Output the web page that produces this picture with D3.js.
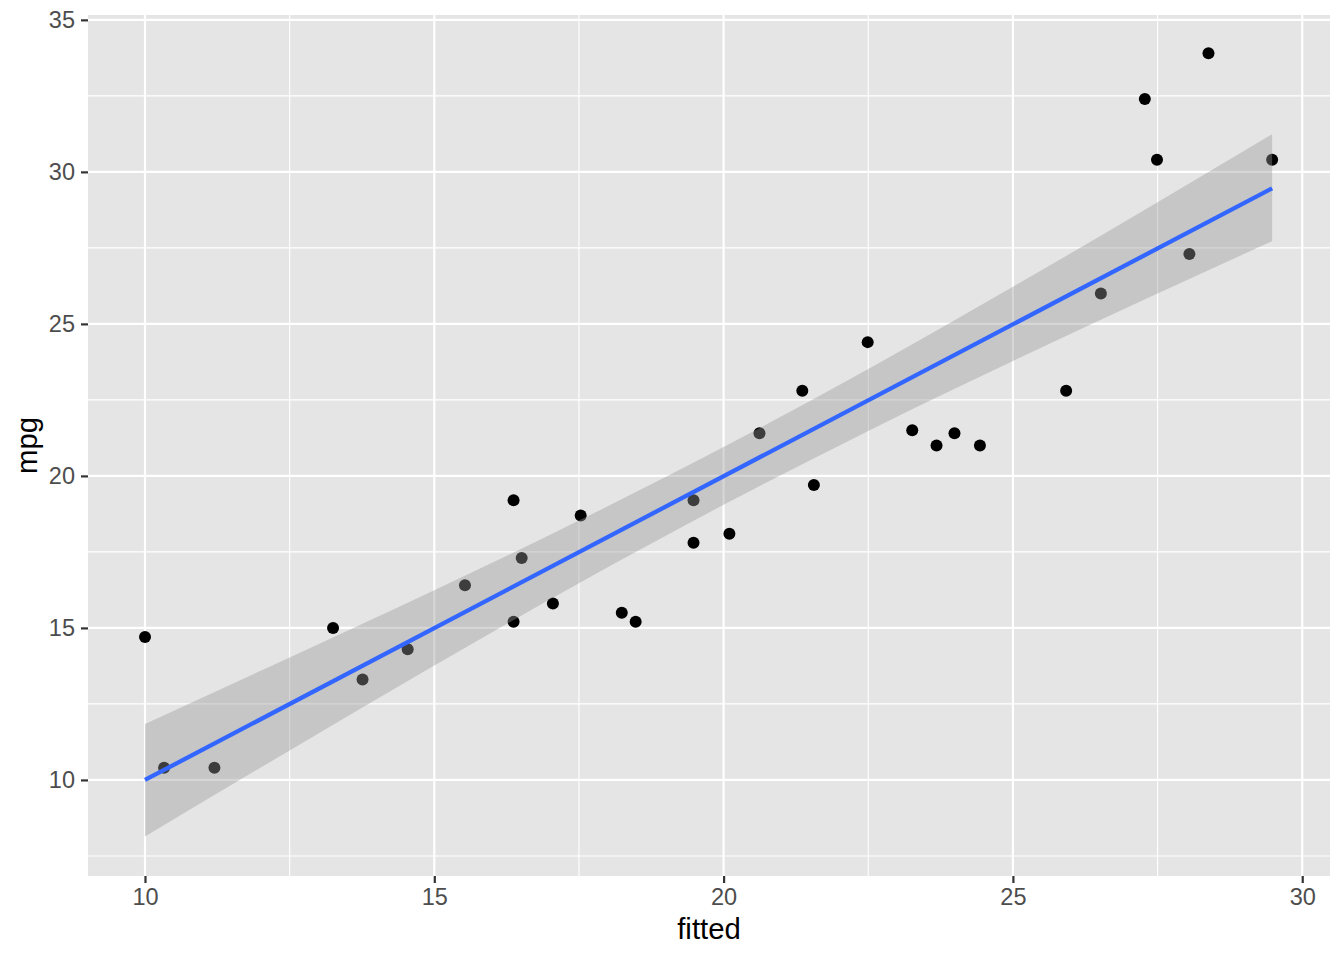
<!DOCTYPE html>
<html lang="en">
<head>
<meta charset="UTF-8">
<title>mpg vs fitted</title>
<script src="https://d3js.org/d3.v7.min.js"></script>
<style>
    body { margin: 0; background: #fff; }
    svg { display: block; font-family: "Liberation Sans", Arial, sans-serif; }
    .tick text { fill: #4d4d4d; font-size: 23.5px; }
    .axis-title { font-size: 29.3px; fill: #000; }
</style>
</head>
<body>
<svg width="1344" height="960"></svg>
<script>
// points
const fitted = [10.00, 10.33, 11.20, 13.25, 13.76, 14.54, 15.53, 16.37, 16.37, 16.51,
    17.05, 17.53, 18.24, 18.48, 19.48, 19.48, 20.10, 20.62, 21.36, 21.56,
    22.49, 23.26, 23.68, 23.99, 24.43, 25.92, 26.52, 27.28, 27.49, 28.05,
    28.38, 29.48];
const mpg = [14.7, 10.4, 10.4, 15.0, 13.3, 14.3, 16.4, 19.2, 15.2, 17.3,
    15.8, 18.7, 15.5, 15.2, 19.2, 17.8, 18.1, 21.4, 22.8, 19.7,
    24.4, 21.5, 21.0, 21.4, 21.0, 22.8, 26.0, 32.4, 30.4, 27.3,
    33.9, 30.4];

// smoothing line and its confidence band
const lineX = [10.00, 29.48];
const lineY = [10.00, 29.46];
const bandX = [10.00, 12.5, 15, 17.5, 20.09, 22.5, 25, 27.5, 29.48];
const bandLo = [8.14, 10.97, 13.76, 16.47, 19.14, 21.48, 23.78, 26.00, 27.72];
const bandHi = [11.84, 14.03, 16.24, 18.53, 21.04, 23.52, 26.22, 29.00, 31.24];

const xTicks = [10, 15, 20, 25, 30];
const yTicks = [10, 15, 20, 25, 30, 35];
const xMinor = [12.5, 17.5, 22.5, 27.5];
const yMinor = [7.5, 12.5, 17.5, 22.5, 27.5, 32.5];

const margin = {top: 15, right: 14, bottom: 84, left: 88};
const width = 1344 - margin.left - margin.right;
const height = 960 - margin.top - margin.bottom;

const svg = d3.select("svg");
const g = svg.append("g").attr("transform", `translate(${margin.left},${margin.top})`);

const x = d3.scaleLinear().domain([9.015, 30.48]).range([0, width]);
const y = d3.scaleLinear().domain([6.84, 35.16]).range([height, 0]);

// panel
g.append("rect")
    .attr("width", width)
    .attr("height", height)
    .attr("fill", "#e5e5e5");

// grid
g.selectAll(".xminor").data(xMinor).enter().append("line")
    .attr("x1", d => x(d)).attr("x2", d => x(d))
    .attr("y1", 0).attr("y2", height)
    .attr("stroke", "#fff").attr("stroke-width", 1.1);
g.selectAll(".yminor").data(yMinor).enter().append("line")
    .attr("y1", d => y(d)).attr("y2", d => y(d))
    .attr("x1", 0).attr("x2", width)
    .attr("stroke", "#fff").attr("stroke-width", 1.1);
g.selectAll(".xmajor").data(xTicks).enter().append("line")
    .attr("x1", d => x(d)).attr("x2", d => x(d))
    .attr("y1", 0).attr("y2", height)
    .attr("stroke", "#fff").attr("stroke-width", 2.2);
g.selectAll(".ymajor").data(yTicks).enter().append("line")
    .attr("y1", d => y(d)).attr("y2", d => y(d))
    .attr("x1", 0).attr("x2", width)
    .attr("stroke", "#fff").attr("stroke-width", 2.2);

// points
g.selectAll(".dot")
    .data(fitted.map((f, i) => [f, mpg[i]]))
    .enter()
    .append("circle")
    .attr("cx", d => x(d[0]))
    .attr("cy", d => y(d[1]))
    .attr("r", 6)
    .attr("fill", "#000");

// confidence band
const band = d3.area()
    .x((d, i) => x(bandX[i]))
    .y0((d, i) => y(bandLo[i]))
    .y1((d, i) => y(bandHi[i]))
    .curve(d3.curveMonotoneX);
g.append("path")
    .datum(bandX)
    .attr("d", band)
    .attr("fill", "#999999")
    .attr("fill-opacity", 0.4);

// fitted line
g.append("path")
    .datum(lineX)
    .attr("d", d3.line().x(d => x(d)).y((d, i) => y(lineY[i])))
    .attr("fill", "none")
    .attr("stroke", "#3366ff")
    .attr("stroke-width", 4.3);

// axes
const xAxis = g.append("g")
    .attr("transform", `translate(0,${height})`)
    .call(d3.axisBottom(x).tickValues(xTicks).tickSize(7).tickPadding(5));
const yAxis = g.append("g")
    .call(d3.axisLeft(y).tickValues(yTicks).tickSize(7).tickPadding(6));
[xAxis, yAxis].forEach(a => {
    a.select(".domain").remove();
    a.selectAll(".tick line").attr("stroke", "#333").attr("stroke-width", 2.2);
    a.attr("font-family", null).attr("font-size", null);
});

// axis titles
svg.append("text")
    .attr("class", "axis-title")
    .attr("x", margin.left + width / 2)
    .attr("y", 939)
    .attr("text-anchor", "middle")
    .text("fitted");
svg.append("text")
    .attr("class", "axis-title")
    .attr("transform", `translate(37,${margin.top + height / 2}) rotate(-90)`)
    .attr("text-anchor", "middle")
    .text("mpg");
</script>
</body>
</html>
